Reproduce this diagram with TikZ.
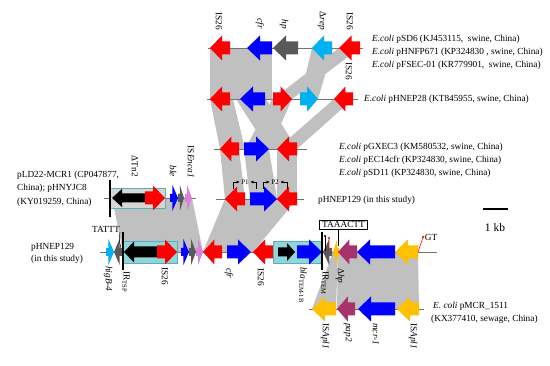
\documentclass[tikz,border=0pt]{standalone}
\usepackage{fontspec}
\setmainfont{Liberation Serif}
\usepackage{tikz}
\usetikzlibrary{positioning, arrows.meta}
\definecolor{isred}{HTML}{FF0000}
\definecolor{cfrblue}{HTML}{0000FF}
\definecolor{hpgray}{HTML}{595959}
\definecolor{repcyan}{HTML}{00B0F0}
\definecolor{apl}{HTML}{FFC000}
\definecolor{papred}{HTML}{A8336A}
\definecolor{enca}{HTML}{D883D8}
\definecolor{band}{HTML}{C0C0C0}
\definecolor{tealfill}{HTML}{8ED6DA}
\definecolor{tealedge}{HTML}{5AAFB4}
\definecolor{boxgray}{HTML}{D6D6D6}

% arrow from #1 to #2 (head at #2) on row #3, colour #4,
% body half-height #5, head half-height #6, head length #7
\newcommand{\genearrow}[7]{%
  \pgfmathsetmacro{\hx}{#2>#1 ? #2-#7 : #2+#7}%
  \fill[#4] (#1,#3-#5) -- (\hx,#3-#5) -- (\hx,#3-#6) -- (#2,#3)
    -- (\hx,#3+#6) -- (\hx,#3+#5) -- (#1,#3+#5) -- cycle;}
% ordinary gene
\newcommand{\gene}[4]{%
  \pgfmathsetmacro{\hl}{min(13,0.6*abs(#2-#1))}%
  \genearrow{#1}{#2}{#3}{#4}{6.5}{12.5}{\hl}}
% short, narrow gene
\newcommand{\smallgene}[4]{%
  \pgfmathsetmacro{\hl}{0.7*abs(#2-#1)}%
  \genearrow{#1}{#2}{#3}{#4}{4}{13}{\hl}}
% grey homology band between two rows
\newcommand{\homol}[6]{%
  \fill[band] (#1,#3) -- (#2,#3) -- (#5,#6) -- (#4,#6) -- cycle;}

\begin{document}
\begin{tikzpicture}[
  x=1pt, y=-1pt,
  every node/.style={font=\fontsize{9.3}{11}\selectfont, inner sep=0pt},
  backbone/.style={draw=black!55, line width=0.5pt},
  tagup/.style={rotate=-90, anchor=east},
  tagdown/.style={rotate=-90, anchor=west},
  irline/.style={draw=black, line width=1.3pt},
  tealbox/.style={fill=tealfill, draw=tealedge, line width=0.6pt},
  graybox/.style={fill=boxgray, draw=tealedge, line width=0.6pt},
  info/.style={anchor=west},
  prom/.style={-{Latex[length=3pt,width=3pt]}, line width=0.4pt},
]
\useasboundingbox (0,0) rectangle (550,366);

% homologous regions
\homol{210}{272}{48}{210}{272}{99}
\homol{312}{333}{48}{300}{318}{99}
\homol{339}{360}{48}{273}{292}{99}
\homol{210}{233}{99}{220}{245}{149}
\homol{236}{266}{99}{268}{297}{149}
\homol{272}{292}{99}{245}{270}{149}
\homol{334}{353}{99}{277}{297}{149}
\homol{220}{239}{149}{225}{245}{199}
\homol{244}{269}{149}{250}{277}{199}
\homol{277}{297}{149}{277}{297}{199}
\homol{225}{297}{199}{203}{253}{252}
\homol{112}{192}{198}{123}{203}{252}
\homol{333}{338}{252}{312}{336}{309}
\homol{338}{418}{252}{337}{419}{309}

% pSD6 / pHNFP671 / pFSEC-01
\draw[backbone] (208,48) -- (363,48);
\gene{230}{210}{48}{isred}
\gene{272}{247}{48}{cfrblue}
\gene{298}{273}{48}{hpgray}
\gene{332}{312}{48}{repcyan}
\gene{360}{339}{48}{isred}
\node[tagup] (t1a) at (219,30) {IS26};
\node[tagup] (t1b) at (260,29) {\textit{cfr}};
\node[tagup] (t1c) at (284,29) {\textit{hp}};
\node[tagup] (t1d) at (322,30) {Δ\textit{rep}};
\node[tagup] (t1e) at (350,30) {IS26};
\node[tagdown] (t1f) at (349,62) {IS26};

% pHNEP28
\draw[backbone] (207,99) -- (358,99);
\gene{230}{210}{99}{isred}
\gene{265}{240}{99}{cfrblue}
\gene{273}{292}{99}{isred}
\gene{300}{318}{99}{repcyan}
\gene{353}{334}{99}{isred}

% pGXEC3 / pEC14cfr / pSD11
\draw[backbone] (214,149) -- (307,149);
\gene{239}{220}{149}{isred}
\gene{244}{269}{149}{cfrblue}
\gene{297}{277}{149}{isred}

% pHNEP129, cfr part
\draw[backbone] (216,199) -- (304,199);
\gene{245}{225}{199}{isred}
\gene{250}{277}{199}{cfrblue}
\gene{297}{277}{199}{isred}
\node (p1) at (245,182) {\fontsize{7}{8}\selectfont P1};
\node (p2) at (275,182) {\fontsize{7}{8}\selectfont P2};
\draw[prom] (233,189) |- ([xshift=-1.5pt]p1.west);
\draw[prom] (256,189) |- ([xshift=1.5pt]p1.east);
\draw[prom] (263,189) |- ([xshift=-1.5pt]p2.west);
\draw[prom] (287,189) |- ([xshift=1.5pt]p2.east);

% pLD22-MCR1 / pHNYJC8
\draw[backbone] (104,198) -- (196,198);
\draw[graybox] (110,188) rectangle (165,208);
\genearrow{145}{112}{198}{black}{4.5}{9}{10}
\gene{145}{165}{198}{isred}
\smallgene{170}{178}{198}{cfrblue}
\smallgene{178}{184}{198}{hpgray}
\smallgene{185}{192}{198}{enca}
\draw[irline] (110,180) -- (110,217);
\node[tagup] (t2a) at (135,177) {ΔTn2};
\node[tagup] (t2b) at (173,177) {\textit{ble}};
\node[tagup] (t2c) at (191,178) {IS\textit{Enca1}};

% pHNEP129, mcr-1 region
\draw[backbone] (100,252) -- (437,252);
\draw[tealbox] (123,241) rectangle (177,263);
\genearrow{157}{124}{252}{black}{5.5}{10.5}{10}
\gene{157}{177}{252}{isred}
\smallgene{106}{114}{252}{repcyan}
\smallgene{122}{114}{252}{hpgray}
\smallgene{181}{189}{252}{cfrblue}
\smallgene{189}{196}{252}{hpgray}
\smallgene{196}{203}{252}{enca}
\gene{222}{203}{252}{isred}
\gene{227}{251}{252}{cfrblue}
\gene{273}{253}{252}{isred}
\draw[tealbox] (273,241) rectangle (322,263);
\genearrow{278}{295}{252}{black}{4.5}{9}{8}
\gene{297}{322}{252}{cfrblue}
\smallgene{332}{323}{252}{hpgray}
\smallgene{339}{333}{252}{apl}
\gene{357}{338}{252}{papred}
\gene{395}{357}{252}{cfrblue}
\gene{418}{395}{252}{apl}
\draw[irline] (123,232) -- (123,270);
\draw[irline] (322,232) -- (322,270);
% target site duplications
\node (tattt) at (106,229) {TATTT};
\draw[line width=0.5pt] (tattt.south east) .. controls (119,240) .. (121,248);
\node[draw, line width=0.6pt, inner xsep=2.5pt, inner ysep=1.5pt] (taaactt) at (343.5,224.5) {TAAACTT};
\draw[line width=0.4pt] (338,230) -- (338,246);
\draw[line width=0.5pt] (325,251) -- (325,236);
\fill (325,236) circle (1.2pt);
\draw[isred, line width=0.5pt] (328,251) -- (329,238);
\fill[isred] (329,238) circle (1.2pt);
\node[inner sep=1.5pt] (gt) at (431,237) {GT};
\coordinate (gtsite) at (418,252);
\draw[isred, line width=0.6pt] (gtsite) -- (gt.west);
\fill[isred] (gt.west) circle (1.2pt);
\node[tagdown] (t3a) at (108,266) {\textit{higB-4}};
\node[tagdown] (t3b) at (126,271) {IR\textsubscript{TSP}};
\node[tagdown] (t3c) at (165,267) {IS26};
\node[tagdown] (t3d) at (229,268) {\textit{cfr}};
\node[tagdown] (t3e) at (261,268) {IS26};
\node[tagdown] (t3f) at (303,267) {\textit{bla}\textsubscript{TEM-1B}};
\node[tagdown] (t3g) at (325,271) {IR\textsubscript{TEM}};
\node[tagdown] (t3h) at (340,268) {Δ\textit{hp}};

% pMCR_1511
\draw[backbone] (309,309) -- (424,309);
\gene{336}{312}{309}{apl}
\gene{355}{337}{309}{papred}
\gene{395}{358}{309}{cfrblue}
\gene{419}{397}{309}{apl}
\node[tagdown] (t4a) at (325,323) {IS\textit{Apl1}};
\node[tagdown] (t4b) at (348,323) {\textit{pap2}};
\node[tagdown] (t4c) at (376,323) {\textit{mcr-1}};
\node[tagdown] (t4d) at (413,323) {IS\textit{Apl1}};

% plasmid names
\node[info] (sd6) at (372,39) {\textit{E.coli} pSD6 (KJ453115,\ \ swine, China)};
\node[info] (hnfp) at (372,52) {\textit{E.coli} pHNFP671 (KP324830 , swine, China)};
\node[info] (fsec) at (372,65) {\textit{E.coli} pFSEC-01 (KR779901,\ \ swine, China)};
\node[info] (hnep28) at (364,99) {\textit{E.coli} pHNEP28 (KT845955, swine, China)};
\node[info] (gxec) at (339,147) {\textit{E.coli} pGXEC3 (KM580532, swine, China)};
\node[info] (ec14) at (339,160) {\textit{E.coli} pEC14cfr (KP324830, swine, China)};
\node[info] (sd11) at (339,173) {\textit{E.coli} pSD11 (KP324830, swine, China)};
\node[info] (hnepa) at (318,200) {pHNEP129 (in this study)};
\node[info] (ld22a) at (17,175) {pLD22-MCR1 (CP047877,};
\node[info] (ld22b) at (17,188) {China); pHNYJC8};
\node[info] (ld22c) at (17,202) {(KY019259, China)};
\node[info] (hnepb) at (31,247) {pHNEP129};
\node[info] (hnepc) at (31,259) {(in this study)};
\node[info] (mcra) at (433,306) {\textit{E. coli} pMCR\_1511};
\node[info] (mcrb) at (431,319) {(KX377410, sewage, China)};

% scale bar
\draw[line width=1.2pt] (483,209) -- (508,209);
\node (kb) at (495,228) {\fontsize{11.5}{13}\selectfont 1 kb};
\end{tikzpicture}
\end{document}
